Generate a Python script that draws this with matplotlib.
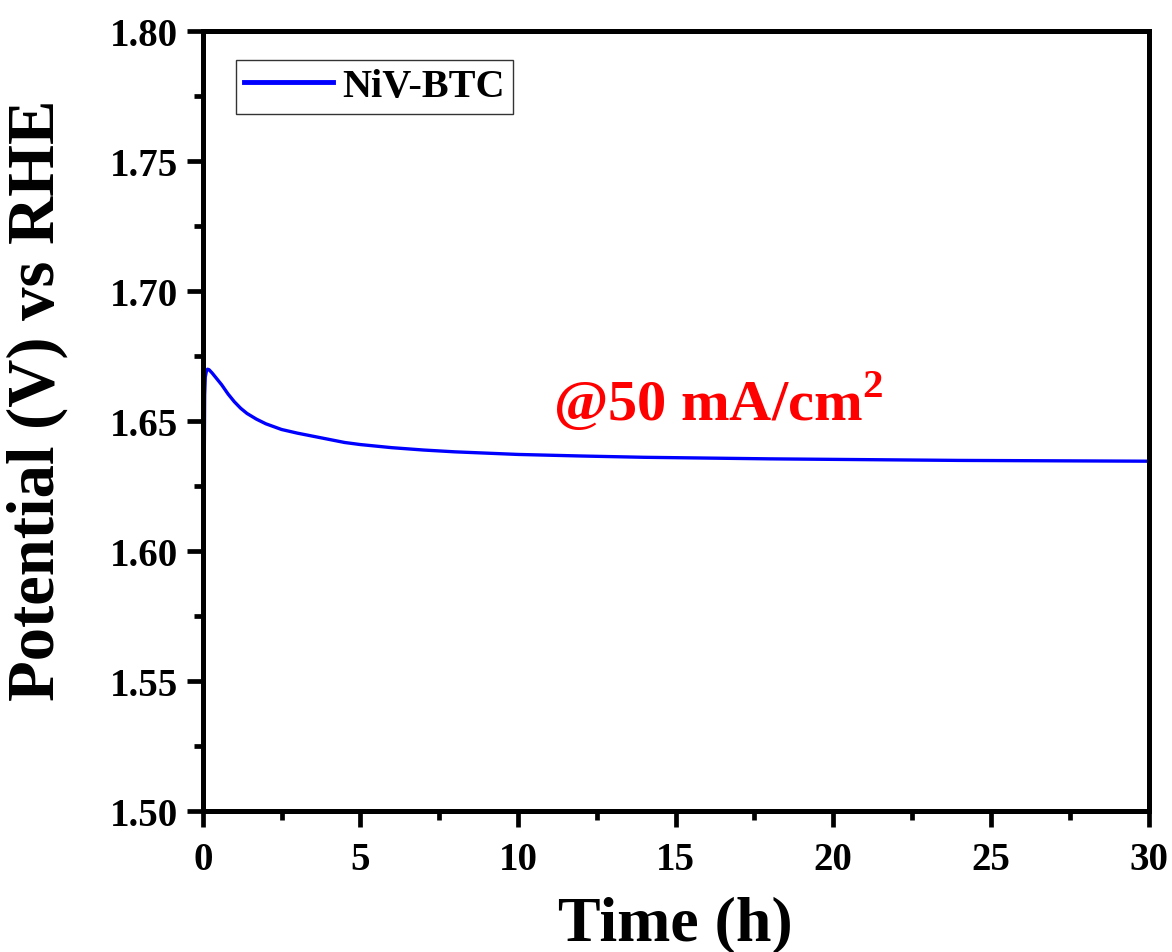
import matplotlib
matplotlib.use('Agg')
import matplotlib.pyplot as plt
from matplotlib.ticker import MultipleLocator

# chronopotentiometry @50 mA/cm2
t_h = [0.0, 0.03, 0.04, 0.05, 0.06, 0.08, 0.12, 0.15, 0.2, 0.3, 0.4, 0.5,
       0.6, 0.8, 1.0, 1.2, 1.4, 1.7, 2.0, 2.5, 3.0, 3.5, 4.0, 4.5, 5.0,
       6.0, 7.0, 8.0, 9.0, 10, 12, 14, 16, 18, 20, 22, 24, 26, 28, 30]
potential = [1.40, 1.50, 1.58, 1.64, 1.66, 1.667, 1.6695, 1.6700, 1.6698,
             1.6685, 1.6670, 1.6655, 1.6640, 1.6605, 1.6575, 1.6550,
             1.6530, 1.6508, 1.6490, 1.6468, 1.6454, 1.6442, 1.6430,
             1.6418, 1.6410, 1.6398, 1.6389, 1.6382, 1.6377, 1.6372,
             1.6366, 1.6361, 1.6358, 1.6355, 1.6353, 1.6351, 1.6349,
             1.6348, 1.6347, 1.6346]

plt.rcParams['font.family'] = 'Liberation Serif'
plt.rcParams['font.weight'] = 'bold'
plt.rcParams['mathtext.fontset'] = 'custom'
plt.rcParams['mathtext.rm'] = 'Liberation Serif:bold'
plt.rcParams['mathtext.bf'] = 'Liberation Serif:bold'

fig = plt.figure(figsize=(11.72, 9.53), dpi=100)
ax = fig.add_axes([0.173, 0.148, 0.807, 0.818])

ax.plot(t_h, potential, color='#0000ff', lw=2.4, label='NiV-BTC')

ax.set_xlim(0, 30)
ax.set_ylim(1.50, 1.80)
ax.xaxis.set_major_locator(MultipleLocator(5))
ax.xaxis.set_minor_locator(MultipleLocator(2.5))
ax.yaxis.set_major_locator(MultipleLocator(0.05))
ax.yaxis.set_minor_locator(MultipleLocator(0.025))
ax.yaxis.set_major_formatter(plt.FormatStrFormatter('%.2f'))

for sp in ax.spines.values():
    sp.set_linewidth(3.6)
ax.tick_params(which='major', direction='out', length=11.5, width=3.4,
               labelsize=28, top=False, right=False)
ax.tick_params(axis='x', which='major', pad=10)
ax.tick_params(axis='y', which='major', pad=6)
ax.tick_params(which='minor', direction='out', length=6.5, width=3.4,
               top=False, right=False)

ax.set_xlabel('Time (h)', fontsize=46, fontweight='bold')
ax.xaxis.set_label_coords(0.5, -0.108)
ax.set_ylabel('Potential (V) vs RHE', fontsize=48, fontweight='bold')
ax.yaxis.set_label_coords(-0.142, 0.528)

ax.text(0.370, 0.5025, r'@50 mA/cm$^\mathbf{2}$', transform=ax.transAxes,
        color='#ff0000', fontsize=42, fontweight='bold', va='baseline')

leg = ax.legend(loc='upper left', fontsize=29, frameon=True, fancybox=False,
                handlelength=2.2, borderpad=0.2, handletextpad=0.25,
                borderaxespad=0, bbox_to_anchor=(0.035, 0.963))
leg.get_frame().set_edgecolor('black')
leg.get_frame().set_linewidth(1.0)
leg.get_lines()[0].set_linewidth(3.5)

fig.savefig('out.png', dpi=100)
